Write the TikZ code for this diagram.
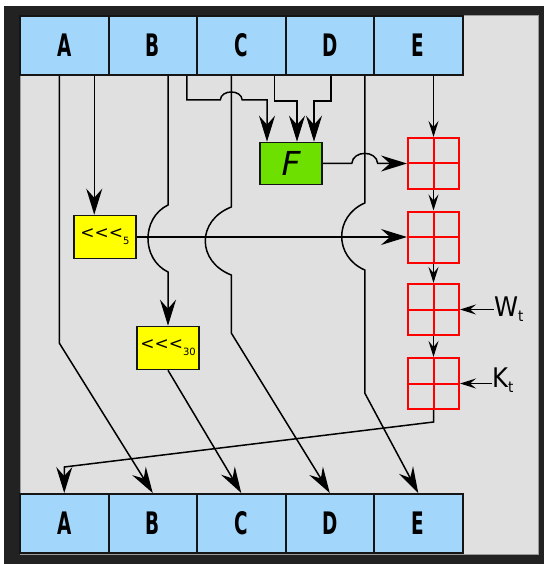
\documentclass[tikz,border=0pt]{standalone}
\usepackage{fontspec}
\setmainfont{DejaVu Sans}
\newfontfamily\regfont{DejaVu Sans Condensed}[FakeStretch=0.66]
\newfontfamily\labfont{DejaVu Sans Condensed}
\usepackage{tikz}
\usetikzlibrary{positioning,arrows.meta,calc}
\definecolor{sframe}{HTML}{222222}
\definecolor{sback}{HTML}{E0E0E0}
\definecolor{sedge}{HTML}{9A9A9A}
\definecolor{sreg}{HTML}{A3D6FB}
\definecolor{srot}{HTML}{FFFF00}
\definecolor{sfun}{HTML}{6DE000}
\definecolor{sadd}{HTML}{FF0000}
\definecolor{sink}{HTML}{151515}
\tikzset{
  reg/.style     ={draw=sink, line width=2pt, fill=sreg, minimum width=88.5pt,
                   minimum height=59pt, inner sep=0pt,
                   font={\regfont\bfseries\fontsize{31}{31}\selectfont}},
  rot/.style     ={draw=sink, line width=1.6pt, fill=srot, minimum width=62pt,
                   minimum height=43pt, inner sep=0pt, font={\fontsize{17}{17}\selectfont}},
  fun/.style     ={rot, fill=sfun, minimum height=42pt, font={\itshape\fontsize{33}{33}\selectfont}},
  adder/.style   ={draw=sadd, line width=2pt, minimum size=51pt, inner sep=0pt,
                   path picture={\draw[sadd, line width=2pt]
                     (path picture bounding box.north) -- (path picture bounding box.south)
                     (path picture bounding box.west) -- (path picture bounding box.east);}},
  ext/.style     ={font={\labfont\fontsize{27}{27}\selectfont}, inner sep=0pt, anchor=west},
  wire/.style    ={line width=1.5pt, draw=black},
  bigarr/.style  ={wire, -{Stealth[length=26pt,width=16pt,inset=9pt]}},
  smallarr/.style={wire, -{Stealth[length=16pt,width=10pt,inset=6pt]}},
}

\begin{document}
\begin{tikzpicture}[x=1pt, y=-1pt]
  \useasboundingbox (0,0) rectangle (544,564);
  \fill[white] (0,0) rectangle (544,564);
  \fill[sframe] (4,6) rectangle (544,564);
  \filldraw[fill=sback, draw=sedge, line width=1pt] (20,16) rectangle (538,554);

  \foreach \r [count=\i from 0] in {A,B,C,D,E} {
    \node[reg] (t\r) at (64.25+88.5*\i, 45.5) {\r};
    \node[reg] (b\r) at (64.25+88.5*\i, 523.5) {\r};
  }

  \node[fun] (fbox) at (291,163.5) {F};
  \node[rot] (rotfive) at (105,237) {<{}<{}<\raisebox{-6pt}{\fontsize{10}{10}\selectfont 5}};
  \node[rot] (rotthirty) at (168,348) {<{}<{}<\raisebox{-6pt}{\fontsize{10}{10}\selectfont 30}};
  \node[adder] (add1) at (433.5,163.5) {};
  \node[adder] (add2) at (433.5,237) {};
  \node[adder] (add3) at (433.5,309.5) {};
  \node[adder] (add4) at (433.5,383.5) {};
  \node[ext] (wt) at (494,309.5) {W\raisebox{-5pt}{\fontsize{15}{15}\selectfont t}};
  \node[ext] (kt) at (492,380) {K\raisebox{-5pt}{\fontsize{15}{15}\selectfont t}};

  \coordinate (aout) at ([xshift=-5pt]tA.south);
  \coordinate (arot) at ([xshift=30pt]tA.south);
  \coordinate (bout) at (tB.south -| rotthirty.north);
  \coordinate (bfun) at ([xshift=34pt]tB.south);
  \coordinate (cout) at ([xshift=-10pt]tC.south);
  \coordinate (cfun) at ([xshift=33pt]tC.south);
  \coordinate (dfun) at ([xshift=1pt]tD.south);
  \coordinate (dout) at ([xshift=35pt]tD.south);
  \coordinate (fin1) at ([xshift=-24pt]fbox.north);
  \coordinate (fin2) at ([xshift=6pt]fbox.north);
  \coordinate (fin3) at ([xshift=23pt]fbox.north);

  \draw[bigarr] (aout) -- (59.25,343) -- (bB.north);
  \draw[bigarr] (arot) -- (arot |- rotfive.north);
  \draw[bigarr] (bout) -- (168,205) .. controls (141.3,218) and (141.3,259) .. (168,272) -- (rotthirty.north);
  \draw[bigarr] (rotthirty.south) -- (bC.north);
  \draw[bigarr] (cout) -- (231.25,207) .. controls (196.6,220.6) and (196.6,261.4) .. (231.25,275)
    -- (231.25,333) -- (bD.north);
  \draw[bigarr] (dout) -- (364.75,203) .. controls (334,216.4) and (334,256.6) .. (364.75,270)
    -- (364.75,393) -- (bE.north);

  \draw[bigarr] (bfun) -- (186.75,100) -- (220.25,100) .. controls (221,89.3) and (241.5,89.3) .. (242.25,100) -| (fin1);
  \draw[bigarr] (cfun) -- ++(0,25) -| (fin2);
  \draw[bigarr] (dfun) -- ++(0,25) -| (fin3);

  \draw[bigarr] (fbox.east) -- (351.75,163.5) .. controls (353,150) and (376.5,150) .. (377.75,163.5) -- (add1.west);
  \draw[bigarr] (rotfive.east) -- (add2.west);
  \draw[smallarr] (tE.south -| add1.north) -- (add1.north);
  \draw[smallarr] (add1) -- (add2);
  \draw[smallarr] (add2) -- (add3);
  \draw[smallarr] (add3) -- (add4);
  \draw[smallarr] (wt.west |- add3.east) -- (add3.east);
  \draw[smallarr] (kt.west |- add4.east) -- (add4.east);
  \draw[bigarr] (add4.south) -- (433.5,422) -- (64.25,467) -- (bA.north);
\end{tikzpicture}
\end{document}
